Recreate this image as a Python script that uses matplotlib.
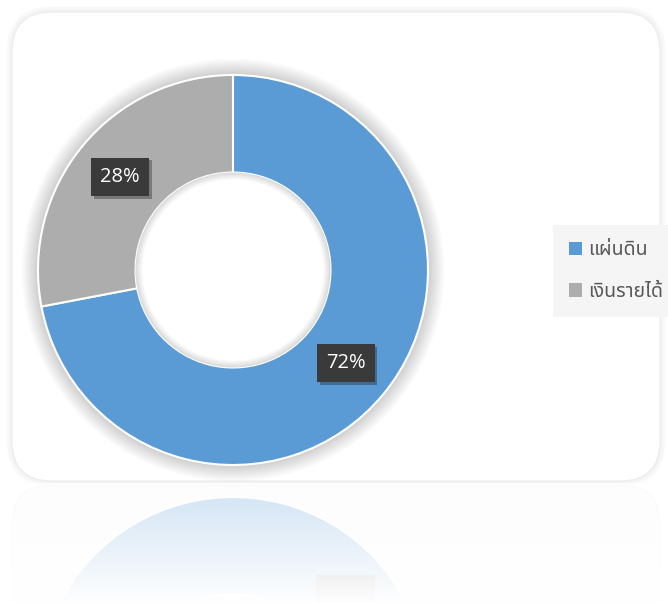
import numpy as np
import matplotlib
matplotlib.use("Agg")
import matplotlib.pyplot as plt
from matplotlib import font_manager
from matplotlib.ft2font import FT2Font
from matplotlib.patches import FancyBboxPatch, Patch, Wedge, Rectangle
from matplotlib.transforms import Affine2D
import matplotlib.patheffects as pe

# ข้อมูล
labels = ["แผ่นดิน", "เงินรายได้"]
values = [72, 28]
colors = ["#5b9bd5", "#adadad"]

W, H = 668, 603


def find_thai_font():
    # หา font ที่มีตัวอักษรไทย
    found = []
    for f in font_manager.fontManager.ttflist:
        try:
            cmap = FT2Font(f.fname).get_charmap()
        except Exception:
            continue
        if 0x0E41 in cmap and 0x0E14 in cmap and 0x0E49 in cmap:
            found.append(f.name)
    prefer = ["Noto Sans Thai", "Noto Sans Thai UI", "Tahoma", "Leelawadee UI",
              "Loma", "Garuda", "Sarabun", "Kinnari", "Norasi"]
    for p in prefer:
        if p in found:
            return p
    if found:
        return found[0]
    return "DejaVu Sans"


thai = find_thai_font()

fig = plt.figure(figsize=(W / 100, H / 100), dpi=100)
fig.patch.set_facecolor("white")

# พิกัดแบบพิกเซล (มุมบนซ้าย)
T = Affine2D().scale(1 / W, -1 / H).translate(0, 1) + fig.transFigure

# เงาของการ์ด
for i in range(6):
    sh = FancyBboxPatch((12 - i, 12 - i), 648 + 2 * i, 469 + 2 * i,
                        boxstyle="round,pad=0,rounding_size=%d" % (40 + i),
                        transform=T, facecolor="none", edgecolor="#000000",
                        alpha=0.035 - 0.005 * i, linewidth=1.2, zorder=-12)
    fig.add_artist(sh)
card = FancyBboxPatch((12, 12), 648, 469, boxstyle="round,pad=0,rounding_size=40",
                      transform=T, facecolor="white", edgecolor="#ececec",
                      linewidth=0.8, zorder=-10)
fig.add_artist(card)

# เงาสะท้อนของการ์ด
card_r = FancyBboxPatch((12, 485), 648, 469, boxstyle="round,pad=0,rounding_size=40",
                        transform=T, facecolor="#f8f8f8", edgecolor="#f0f0f0",
                        linewidth=0.8, zorder=-10)
fig.add_artist(card_r)

cx, cy, r = 233, 270, 195
lim = 1.15
M = 481  # เส้นสะท้อน
pctdist = 0.75


def draw_donut(ax, alpha=1.0, shadow=True):
    if shadow:
        for i in range(12):
            ax.add_patch(Wedge((0, 0), 1.0 + 0.007 * (i + 1), 0, 360,
                               width=0.007 * (i + 1) + 0.03, facecolor="#000000",
                               alpha=0.016, edgecolor="none", zorder=0))
    wedges, texts, autotexts = ax.pie(
        values, colors=colors, startangle=90, counterclock=False,
        radius=1.0, autopct="%d%%", pctdistance=pctdist,
        wedgeprops=dict(width=0.5, edgecolor="white", linewidth=1.5, alpha=alpha),
        textprops=dict(color="white", fontsize=14.5, family=["Open Sans", "DejaVu Sans"]))
    for w in wedges:
        w.set_zorder(2)
    if shadow:
        for i in range(6):
            ax.add_patch(Wedge((0, 0), 0.5, 0, 360, width=0.006 * (i + 1),
                               facecolor="#000000", alpha=0.025, edgecolor="none", zorder=3))
    for t in autotexts:
        t.set_zorder(5)
        t.set_bbox(dict(boxstyle="square,pad=0.45", facecolor="#3a3a3a",
                        edgecolor="none", alpha=alpha))
        t.get_bbox_patch().set_path_effects(
            [pe.SimplePatchShadow(offset=(2, -2), shadow_rgbFace="#000000", alpha=0.3),
             pe.Normal()])
    ax.set_xlim(-lim, lim)
    ax.set_ylim(-lim, lim)
    ax.axis("off")
    return wedges, autotexts


side = 2 * r * lim
ax = fig.add_axes([(cx - r * lim) / W, 1 - (cy + r * lim) / H, side / W, side / H])
draw_donut(ax)

# เงาสะท้อนของโดนัท (ไม่มีตัวเลข มีแต่กล่อง)
top_px = cy - r * lim
bot_px = cy + r * lim
rtop = 2 * M - bot_px
rbot = 2 * M - top_px
ax2 = fig.add_axes([(cx - r * lim) / W, 1 - rbot / H, side / W, (rbot - rtop) / H])
w2 = ax2.pie(values, colors=colors, startangle=90, counterclock=False,
             radius=1.0, wedgeprops=dict(width=0.5, edgecolor="white", linewidth=1.5))[0]
clip = Rectangle((0, 0), 1, 1 - (M + 2) / H, transform=fig.transFigure)
for w in w2:
    w.set_clip_path(clip)
for w in w2:
    ang = np.deg2rad((w.theta1 + w.theta2) / 2)
    bx, by = pctdist * np.cos(ang), pctdist * np.sin(ang)
    box = Rectangle((bx - 0.15, by - 0.12), 0.30, 0.24, facecolor="#3a3a3a",
                    edgecolor="none", zorder=5)
    ax2.add_patch(box)
    box.set_clip_path(clip)
ax2.set_xlim(-lim, lim)
ax2.set_ylim(lim, -lim)
ax2.axis("off")

# ไล่สีขาวทับเงาสะท้อน
axf = fig.add_axes([0, 0, 1, 1 - (M + 2) / H])
axf.set_zorder(5)
grad = np.linspace(0.72, 1.0, 200).reshape(-1, 1)
img = np.ones((200, 1, 4))
img[:, :, 3] = grad
axf.imshow(img, aspect="auto", extent=[0, 1, 0, 1], interpolation="bilinear")
axf.axis("off")

# ตัวอธิบาย
handles = [Patch(facecolor=c, edgecolor="none") for c in colors]
leg = fig.legend(handles, labels, loc="center left",
                 bbox_to_anchor=(553 / W, 1 - 271 / H), frameon=True,
                 facecolor="#f5f5f5", edgecolor="none", fancybox=False,
                 prop=dict(family=[thai, "DejaVu Sans"], size=14),
                 labelcolor="#595959", handlelength=0.7, handleheight=0.7,
                 labelspacing=1.1, borderpad=0.8, handletextpad=0.3,
                 borderaxespad=0)
leg.get_frame().set_alpha(1)

fig.savefig("out.png", dpi=100)
